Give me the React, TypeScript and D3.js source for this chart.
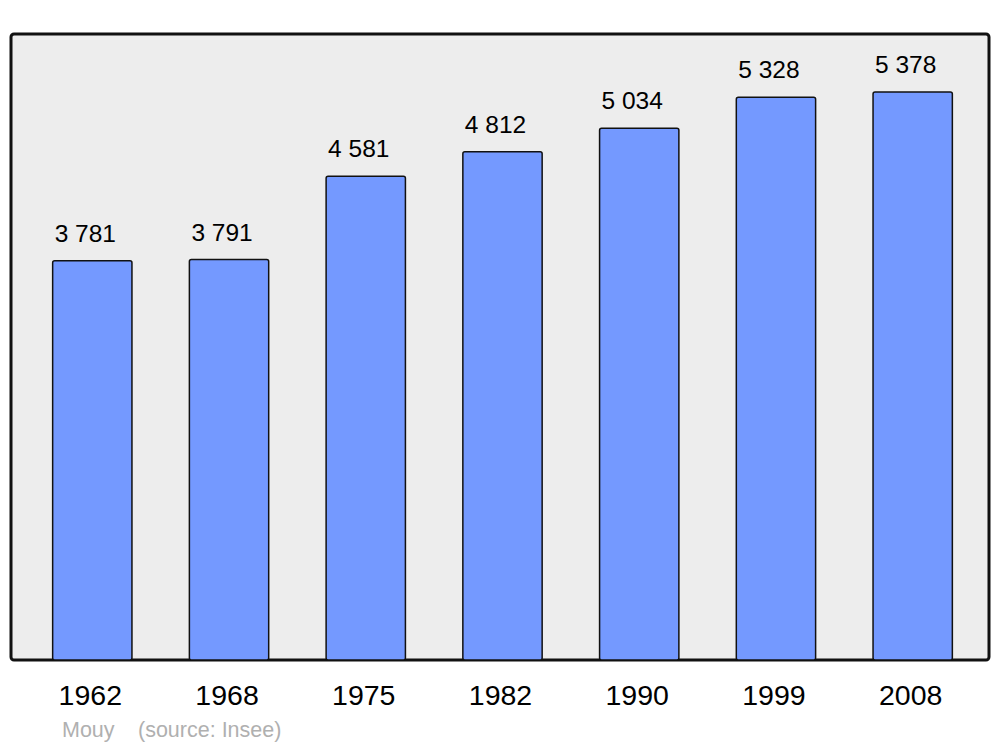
import React from 'react';
import * as d3 from 'd3';

const years = ['1962', '1968', '1975', '1982', '1990', '1999', '2008'];
const population = [3781, 3791, 4581, 4812, 5034, 5328, 5378];
const commune = 'Mouy';
const source = '(source: Insee)';

const fmt = (v: number) => d3.format(',')(v).replace(/,/g, ' ');

const App = () => {
  const width = 1000,
    height = 747;
  const panel = { x: 11, y: 34, w: 978, h: 626 };

  const x = d3
    .scaleBand<string>()
    .domain(years)
    .range([13, 992])
    .paddingInner(0.42)
    .paddingOuter(0.29);
  const y = d3
    .scaleLinear()
    .domain([0, 5927])
    .range([panel.y + panel.h, panel.y]);

  const font = '"Liberation Sans", Arial, sans-serif';

  return (
    <svg
      width={width}
      height={height}
      style={{ position: 'absolute', left: 0, top: 0 }}
      fontFamily={font}
    >
      <rect width={width} height={height} fill="#fff" />
      <rect
        x={panel.x}
        y={panel.y}
        width={panel.w}
        height={panel.h}
        rx={3}
        fill="#ededed"
        stroke="#111"
        strokeWidth={3}
      />
      {years.map((yr, i) => {
        const bx = x(yr)!;
        const top = y(population[i]);
        return (
          <g key={yr}>
            <rect
              x={bx}
              y={top}
              width={x.bandwidth()}
              height={y(0) - top}
              rx={2}
              fill="#7499ff"
              stroke="#111"
              strokeWidth={1.5}
            />
            <text
              x={bx + x.bandwidth() / 2 - 7}
              y={top - 19}
              textAnchor="middle"
              fontSize={24.5}
              fill="#000"
            >
              {fmt(population[i])}
            </text>
            <text
              x={bx + x.bandwidth() / 2 - 2}
              y={705}
              textAnchor="middle"
              fontSize={28.5}
              fill="#000"
            >
              {yr}
            </text>
          </g>
        );
      })}
      <text x={62} y={737} fontSize={21.5} fill="#b0b0b0">
        {commune}
      </text>
      <text x={138} y={737} fontSize={21.5} fill="#b0b0b0">
        {source}
      </text>
    </svg>
  );
};

export default App;
